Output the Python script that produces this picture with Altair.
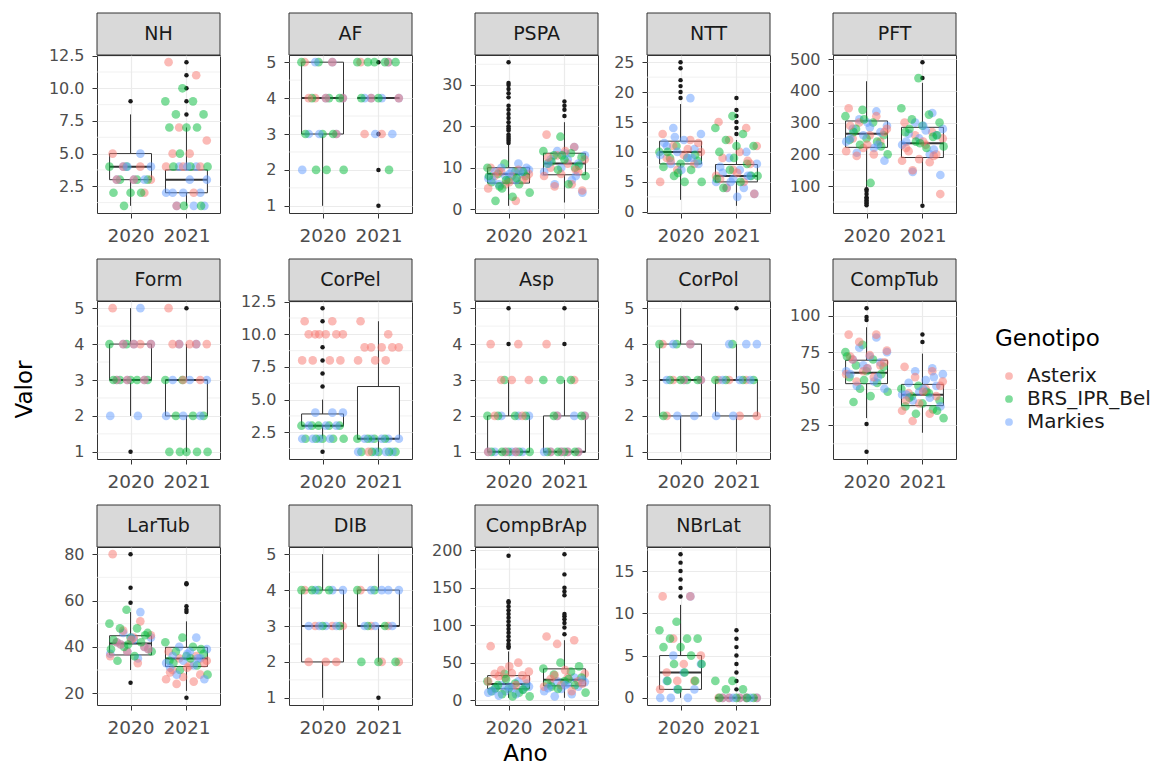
import altair as alt
import pandas as pd

FONT = "DejaVu Sans"
GENOS = ["Asterix", "BRS_IPR_Bel", "Markies"]
COLORS = ["#F8766D", "#00BA38", "#619CFF"]
YEARS = [2020, 2021]
PANELS = ["NH", "AF", "PSPA", "NTT", "PFT", "Form", "CorPel", "Asp", "CorPol",
          "CompTub", "LarTub", "DIB", "CompBrAp", "NBrLat"]

TICKS = {
    "NH": [2.5, 5, 7.5, 10, 12.5], "AF": [1, 2, 3, 4, 5], "PSPA": [0, 10, 20, 30],
    "NTT": [0, 5, 10, 15, 20, 25], "PFT": [100, 200, 300, 400, 500], "Form": [1, 2, 3, 4, 5],
    "CorPel": [2.5, 5, 7.5, 10, 12.5], "Asp": [1, 2, 3, 4, 5], "CorPol": [1, 2, 3, 4, 5],
    "CompTub": [25, 50, 75, 100], "LarTub": [20, 40, 60, 80], "DIB": [1, 2, 3, 4, 5],
    "CompBrAp": [0, 50, 100, 150, 200], "NBrLat": [0, 5, 10, 15],
}
FMT = {"NH": ".1f", "CorPel": ".1f"}

# box statistics per year: (lower whisker, q1, median, q3, upper whisker)
BOX = {
    "NH": [(1, 3, 4, 5, 8), (1, 2, 3, 3.75, 7)],
    "AF": [(1, 3, 4, 5, 5), (4, 4, 4, 4, 4)],
    "PSPA": [(0.8, 6.3, 8.5, 10, 15.5), (1.6, 8.3, 11, 13.5, 21)],
    "NTT": [(2, 8, 10, 11.8, 18), (1, 5, 6, 7.9, 12)],
    "PFT": [(95, 222, 265, 305, 430), (45, 190, 235, 285, 425)],
    "Form": [(2, 3, 3, 4, 5), (1, 2, 3, 3, 4)],
    "CorPel": [(2, 3, 3, 3.9, 5), (1, 2, 2, 6, 11)],
    "Asp": [(1, 1, 1, 2, 3), (1, 1, 1, 2, 3)],
    "CorPol": [(1, 2, 3, 4, 5), (1, 2, 3, 3, 4)],
    "CompTub": [(30, 53.5, 61, 69.5, 92), (20, 38.5, 46, 53, 74)],
    "LarTub": [(30, 36.5, 41.5, 44.8, 55), (21, 31.5, 35, 39.8, 51)],
    "DIB": [(1, 2, 3, 4, 5), (2, 3, 3, 4, 5)],
    "CompBrAp": [(3, 15, 21.5, 32.7, 65), (3, 19, 27, 41.7, 80)],
    "NBrLat": [(0, 1, 3, 5, 11), (0, 0, 0, 0, 0)],
}

OUT = {
    "NH": [[9], [8, 9, 10, 11, 12]],
    "AF": [[], [1, 2, 3, 5]],
    "PSPA": [[16, 16.5, 17, 17.5, 18, 19, 19.5, 20, 21, 22, 23, 24, 25, 27, 28, 29, 30, 30.5, 35.5],
             [22.5, 24, 25, 26]],
    "NTT": [[19, 20, 21, 22, 24, 25], [13, 14, 15, 16, 17, 19]],
    "PFT": [[40, 45, 50, 55, 60, 65, 75, 85, 90], [38, 440, 490]],
    "Form": [[1], [5]],
    "CorPel": [[1, 6, 7, 8, 9, 11, 12], []],
    "Asp": [[4, 5], [4, 5]],
    "CorPol": [[], [5]],
    "CompTub": [[7, 26, 97, 99, 105], [82, 87]],
    "LarTub": [[24.5, 59, 65.5, 80], [18, 55, 56, 57.5, 67, 67.5]],
    "DIB": [[], [1]],
    "CompBrAp": [[70, 72, 75, 80, 85, 90, 95, 100, 105, 110, 115, 120, 125, 130, 132, 193],
                 [88, 97, 103, 108, 112, 115, 140, 145, 150, 168, 195]],
    "NBrLat": [[12, 13, 14, 15, 16, 17], [1, 2, 3, 4, 5, 6, 7, 8]],
}

# jittered points: per year, [Asterix, BRS_IPR_Bel, Markies]
PTS = {
    "NH": [[[5, 4, 4, 3, 3, 3, 2], [4, 4, 3, 3, 3, 2, 2, 2, 1], [5, 4, 4, 3, 3, 3, 4]],
           [[12, 11, 7, 6, 5, 5, 4, 4, 4, 2, 1], [10, 9, 9, 8, 8, 7, 7, 7, 5, 4, 4, 4, 1, 1],
            [4, 4, 3, 3, 2, 2, 2, 2, 1, 1, 1, 4]]],
    "AF": [[[5, 5, 4, 4, 4, 4, 3], [5, 5, 4, 4, 4, 3, 3, 3, 2, 2, 2], [5, 5, 4, 4, 3, 3, 3, 2]],
           [[5, 5, 4, 4, 3, 3], [5, 5, 5, 5, 5, 4, 4, 2], [5, 4, 4, 4, 4, 3, 3]]],
    "PSPA": [[[10, 9.5, 9, 8.5, 8, 8, 7, 6, 5, 2, 9, 7.5, 6.5],
              [11, 10, 9, 8.5, 8, 7, 6.5, 6, 5, 4, 3, 2, 9, 7, 8, 7.5, 5.5],
              [11, 10, 9.5, 9, 9, 8.5, 8, 7.5, 7, 6, 10, 8.5, 7, 9]],
             [[18, 15, 13, 12, 11, 10, 9, 8.5, 8, 6, 5.5, 4.5, 14, 12.5, 9.5],
              [17.5, 14, 13.5, 13, 12.5, 12, 11, 10, 9.5, 8, 6, 11.5, 10.5, 13],
              [15, 14, 13, 12, 12, 11, 10, 9, 7, 6, 4, 13.5, 11, 8]]],
    "NTT": [[[13, 12, 11, 10, 9.5, 9, 8, 7, 5, 10.5, 8.5, 11.5],
             [11, 10, 9, 9, 8.5, 8, 7.5, 7, 6, 5, 5, 10, 9.5, 6.5],
             [19, 14, 13, 12, 11, 10.5, 10, 9.5, 9, 8, 8, 7, 11.5, 9, 12.5]],
            [[15, 14, 12, 11, 10, 9, 8, 7, 6, 5, 4, 3, 6.5, 5.5, 8.5],
             [16, 14, 13, 12, 11, 11, 10, 8, 7, 6, 5, 4, 6, 9, 5.5],
             [10, 9, 8, 7, 6.5, 6, 5.5, 5, 4, 4, 3, 2.5, 7.5, 6, 5]]],
    "PFT": [[[345, 320, 300, 280, 260, 250, 240, 220, 210, 200, 195, 270, 230, 290],
             [340, 320, 300, 280, 260, 250, 245, 240, 230, 200, 110, 270, 225, 310],
             [335, 310, 290, 285, 280, 270, 260, 240, 220, 205, 180, 300, 250, 230]],
            [[300, 270, 260, 250, 230, 210, 200, 185, 180, 175, 150, 75, 240, 220, 195],
             [440, 345, 325, 310, 300, 290, 270, 255, 240, 225, 220, 280, 260, 235],
             [330, 300, 280, 275, 265, 260, 250, 230, 200, 145, 135, 290, 240, 215]]],
    "Form": [[[5, 4, 4, 4, 4, 3, 3, 3], [4, 4, 3, 3, 3, 3, 3], [5, 4, 4, 4, 3, 3, 3, 2, 2]],
             [[5, 4, 4, 4, 4, 4, 3, 3], [3, 3, 2, 2, 2, 1, 1, 1, 1, 1], [4, 4, 3, 3, 3, 2, 2, 2]]],
    "CorPel": [[[11, 11, 10, 10, 10, 10, 10, 10, 8, 8, 8, 8], [3, 3, 3, 3, 3, 2, 2, 2, 2, 2],
                [4, 4, 4, 3, 3, 3, 2, 2, 2, 2]],
               [[11, 10, 9, 9, 9, 9, 9, 8, 8, 8, 1], [2, 2, 2, 2, 1, 1, 1, 1, 1], [2, 2, 2, 2, 2, 1, 1, 1, 1]]],
    "Asp": [[[4, 4, 3, 3, 3, 2, 2, 1, 1, 1], [3, 2, 2, 2, 2, 1, 1, 1, 1, 1], [2, 2, 2, 1, 1, 1, 1, 1, 1]],
            [[4, 3, 2, 2, 1, 1, 1, 1], [3, 3, 3, 2, 2, 1, 1, 1, 1], [2, 2, 2, 1, 1, 1, 1, 1]]],
    "CorPol": [[[4, 4, 3, 3, 3, 2], [4, 4, 3, 3, 3, 3, 2], [4, 4, 3, 3, 3, 2, 2]],
               [[3, 3, 3, 2, 2], [4, 3, 3, 3, 3], [4, 4, 4, 3, 3, 3, 2, 2]]],
    "CompTub": [[[87, 87, 82, 76, 73, 70, 66, 62, 60, 58, 55, 68, 64, 72],
                 [80, 75, 70, 66, 65, 62, 58, 54, 50, 48, 45, 41, 60, 56, 72],
                 [85, 78, 75, 72, 70, 68, 66, 62, 55, 52, 50, 64, 60, 58]],
                [[65, 62, 58, 55, 50, 47, 45, 40, 35, 33, 28, 52, 48, 42],
                 [52, 50, 47, 45, 42, 40, 38, 36, 33, 30, 48, 44, 35],
                 [64, 62, 60, 56, 54, 52, 48, 46, 44, 42, 38, 50, 46, 58]]],
    "LarTub": [[[80, 51, 47, 45, 44, 42, 40, 38, 36, 33, 41, 39, 43],
                [56, 50, 48, 48, 46, 44, 43, 42, 40, 38, 36, 34, 45, 41, 39],
                [55, 46, 44, 43, 42, 40, 38, 37, 35, 41, 39, 44]],
               [[38, 36, 35, 34, 32, 30, 28, 27, 26, 25, 24, 33, 31, 29],
                [44, 42, 40, 38, 37, 36, 34, 32, 30, 28, 35, 33, 39],
                [44, 40, 39, 38, 36, 35, 34, 33, 32, 28, 26, 37, 31, 35]]],
    "DIB": [[[4, 3, 3, 3, 2, 2, 2], [4, 4, 4, 4, 3, 3], [4, 4, 4, 3, 3, 3, 3]],
            [[4, 3, 3, 2, 2], [4, 4, 3, 3, 2, 2, 2], [4, 4, 4, 4, 3, 3, 3]]],
    "CompBrAp": [[[72, 50, 40, 38, 36, 35, 33, 30, 25, 20, 32, 28, 45],
                  [35, 25, 22, 20, 18, 15, 12, 10, 8, 5, 5, 16, 14, 28],
                  [25, 20, 18, 16, 15, 14, 12, 10, 8, 6, 22, 18, 12]],
                 [[85, 80, 75, 35, 30, 28, 25, 20, 18, 12, 33, 22, 40],
                  [50, 42, 38, 34, 30, 25, 22, 20, 15, 10, 28, 18, 45],
                  [30, 25, 24, 22, 20, 18, 15, 12, 8, 5, 27, 20, 16]]],
    "NBrLat": [[[12, 12, 7, 5, 4, 3, 2, 2, 1], [9, 8, 7, 7, 7, 6, 6, 5, 4, 4, 3, 2, 2, 1],
                [12, 5, 4, 3, 2, 1, 1, 0, 0, 0]],
               [[0, 0, 0, 0, 0, 0], [2, 2, 1, 1, 0, 0, 0, 0], [0, 0, 0, 0, 0, 0, 0]]],
}

W, H, STRIP = 123, 158, 42
COL_EXT = [49, 59, 53, 39, 53]
XEXT = 33


def points_df(k):
    rows = []
    for yi, year in enumerate(YEARS):
        groups = PTS[k][yi]
        n = max(len(g) for g in groups)
        for i in range(n):
            for gi, g in enumerate(GENOS):
                if i < len(groups[gi]):
                    rows.append({"year": year, "Genotipo": g, "value": groups[gi][i], "i": i, "g": gi})
    return pd.DataFrame(rows)


def box_df(k):
    rows = []
    for yi, year in enumerate(YEARS):
        lo, q1, med, q3, hi = BOX[k][yi]
        rows.append({"year": year, "lo": lo, "q1": q1, "med": med, "q3": q3, "hi": hi})
    return pd.DataFrame(rows)


def out_df(k):
    rows = []
    for yi, year in enumerate(YEARS):
        for v in OUT[k][yi]:
            rows.append({"year": year, "value": v})
    return pd.DataFrame(rows, columns=["year", "value"])


def domain(k):
    vals = [v for yr in PTS[k] for grp in yr for v in grp]
    vals += [v for b in BOX[k] for v in b]
    vals += [v for o in OUT[k] for v in o]
    lo, hi = min(vals), max(vals)
    pad = 0.05 * (hi - lo)
    return [lo - pad, hi + pad]


def panel(idx, k):
    col = idx % 5
    dom = domain(k)
    ticks = TICKS[k]
    step = ticks[1] - ticks[0]
    minors = [t - step / 2 for t in ticks] + [ticks[-1] + step / 2]
    minors = [m for m in minors if dom[0] <= m <= dom[1]]

    ys = alt.Scale(domain=dom, nice=False, zero=False)
    xs = alt.Scale(domain=[2019.4, 2021.6], nice=False, zero=False)
    yax = alt.Axis(values=ticks, format=FMT.get(k, "d"), minExtent=COL_EXT[col],
                   maxExtent=COL_EXT[col], titlePadding=12, titleY=88, titleFontSize=23,
                   titleFont=FONT, titleFontWeight="normal", titleColor="black")
    xax = alt.Axis(values=YEARS, format="d", minExtent=XEXT, maxExtent=XEXT, titleX=50,
                   titlePadding=4, titleFontSize=23, titleFont=FONT,
                   titleFontWeight="normal", titleColor="black")
    ytitle = "Valor" if k == "Form" else None
    xtitle = "Ano" if k == "CompBrAp" else None

    def Y(f):
        return alt.Y(f, type="quantitative", scale=ys, axis=yax, title=ytitle)

    def X(f):
        return alt.X(f, type="quantitative", scale=xs, axis=xax, title=xtitle)

    minor = alt.Chart(pd.DataFrame({"m": minors})).mark_rule(
        color="#EBEBEB", strokeWidth=0.7).encode(x=alt.value(0), x2=alt.value(W), y=Y("m"))
    name = pd.DataFrame({"name": [k]})
    strip = alt.Chart(name).mark_rect(fill="#D9D9D9", stroke="#333333", strokeWidth=1).encode(
        x=alt.value(0), x2=alt.value(W), y=alt.value(-STRIP), y2=alt.value(0))
    strip_txt = alt.Chart(name).mark_text(font=FONT, fontSize=19, color="#1A1A1A",
                                          align="center", baseline="middle").encode(
        x=alt.value(W / 2), y=alt.value(-STRIP / 2), text="name:N")
    bd = box_df(k)
    wlo = alt.Chart(bd).mark_rule(color="#333333", strokeWidth=1).encode(
        x=X("year"), y=Y("lo"), y2=alt.Y2("q1"))
    whi = alt.Chart(bd).mark_rule(color="#333333", strokeWidth=1).encode(
        x=X("year"), y=Y("q3"), y2=alt.Y2("hi"))
    boxr = alt.Chart(bd).transform_calculate(
        xl="datum.year - 0.375", xr="datum.year + 0.375").mark_rect(
        fill="white", stroke="#333333", strokeWidth=1).encode(
        x=X("xl"), x2=alt.X2("xr"), y=Y("q1"), y2=alt.Y2("q3"))
    med = alt.Chart(bd).transform_calculate(
        xl="datum.year - 0.375", xr="datum.year + 0.375").mark_rule(
        color="#333333", strokeWidth=2).encode(x=X("xl"), x2=alt.X2("xr"), y=Y("med"))
    outl = alt.Chart(out_df(k)).mark_circle(size=20, color="#1A1A1A", opacity=1).encode(
        x=X("year"), y=Y("value"))
    pts = alt.Chart(points_df(k)).transform_calculate(
        jx="datum.year - 0.4 + 0.8 * ((datum.i * 0.6180339887 + datum.g * 0.31 + 0.1) % 1)"
    ).mark_circle(size=75, opacity=0.5).encode(
        x=X("jx"), y=Y("value"),
        color=alt.Color("Genotipo:N", scale=alt.Scale(domain=GENOS, range=COLORS),
                        legend=alt.Legend(title="Genotipo", orient="none", legendX=898, legendY=273,
                                          titleFontSize=23, titleFont=FONT, titleFontWeight="normal",
                                          titleColor="black", labelFontSize=20, labelFont=FONT,
                                          labelColor="#1A1A1A", symbolSize=60, symbolOpacity=0.5,
                                          symbolType="circle", symbolStrokeWidth=0, rowPadding=3,
                                          titlePadding=15, labelOffset=8, symbolOffset=4, padding=0)))
    return alt.layer(minor, strip, strip_txt, wlo, whi, boxr, med, outl, pts).properties(
        width=W, height=H)


charts = [panel(i, k) for i, k in enumerate(PANELS)]

chart = alt.concat(*charts, columns=5, spacing={"row": 11, "column": 8}, align="each").properties(
    autosize=alt.AutoSizeParams(type="none"),
    padding={"left": 97, "top": 55, "right": 1063, "bottom": 711},
).configure(background="white").configure_view(
    stroke="#333333", strokeWidth=1, fill="white"
).configure_axis(
    labelFont=FONT, labelColor="#4D4D4D", tickColor="#333333", tickSize=5, tickWidth=1,
    gridColor="#EBEBEB", gridWidth=1.2, domain=False
).configure_axisX(labelFontSize=18.5, labelPadding=8).configure_axisY(labelFontSize=16, labelPadding=8)

chart.save("out.html", embed_options={"renderer": "svg", "actions": False})
